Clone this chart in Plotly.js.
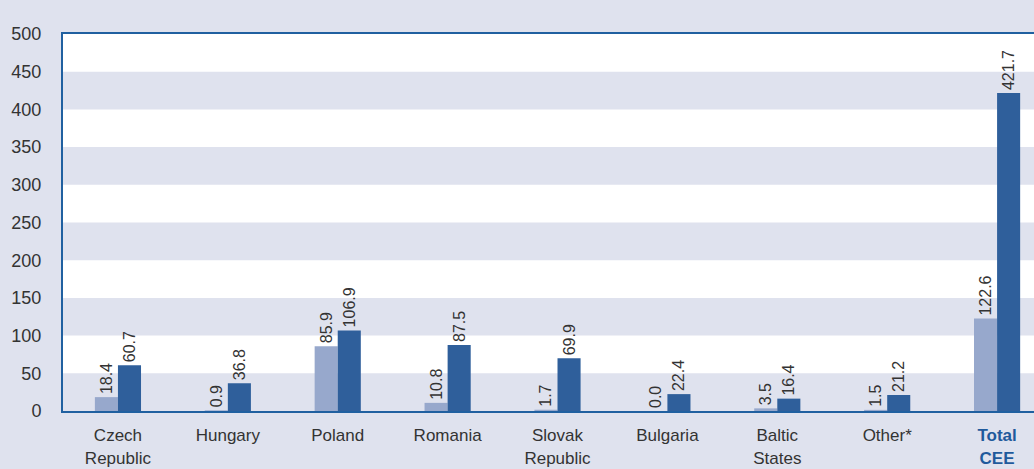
<!DOCTYPE html>
<html><head><meta charset="utf-8">
<script src="https://cdn.plot.ly/plotly-3.0.1.min.js"></script>
<style>html,body{margin:0;padding:0;background:#dfe2ee;}</style>
</head><body>
<div id="chart" style="width:1034px;height:469px;"></div>
<script>
const categories = ["Czech<br>Republic", "Hungary", "Poland", "Romania", "Slovak<br>Republic", "Bulgaria", "Baltic<br>States", "Other*", "<b><span style='color:#1f5a9c'>Total<br>CEE</span></b>"];
const seriesA = [18.4, 0.9, 85.9, 10.8, 1.7, 0.0, 3.5, 1.5, 122.6];
const seriesB = [60.7, 36.8, 106.9, 87.5, 69.9, 22.4, 16.4, 21.2, 421.7];
const yTicks = [0, 50, 100, 150, 200, 250, 300, 350, 400, 450, 500];

const idx = categories.map((c, i) => i);
const font = "'Liberation Sans Narrow', 'Arial Narrow', 'Liberation Sans', Arial, sans-serif";
const mk = (vals, color) => ({
  type: 'bar', x: idx, y: vals,
  marker: {color: color, line: {width: 0}},
  text: vals.map(v => v.toFixed(1)),
  textposition: 'outside', textangle: -90,
  textfont: {family: font, size: 16, color: '#333'},
  constraintext: 'none', cliponaxis: false,
  hoverinfo: 'none'
});
const shapes = [];
for (let i = 0; i + 1 < yTicks.length; i += 2) {
  shapes.push({type: 'rect', xref: 'paper', yref: 'y', x0: 0, x1: 1, y0: yTicks[i], y1: yTicks[i + 1],
    fillcolor: '#dfe2ee', line: {width: 0}, layer: 'below'});
}
Plotly.newPlot('chart', [mk(seriesA, '#97a8cc'), mk(seriesB, '#2f5f9b')], {
  width: 1034, height: 469,
  margin: {l: 63, r: 0, t: 34, b: 58},
  paper_bgcolor: '#dfe2ee', plot_bgcolor: '#ffffff',
  barmode: 'group', bargap: 0.58, bargroupgap: 0,
  showlegend: false,
  shapes: shapes,
  xaxis: {range: [-0.5, 8.336], tickvals: idx, ticktext: categories, showgrid: false, zeroline: false,
    showline: true, mirror: true, linecolor: '#2060a0', linewidth: 2,
    ticks: 'outside', ticklen: 8, tickcolor: 'rgba(0,0,0,0)',
    tickfont: {family: font, size: 17, color: '#333'}, fixedrange: true},
  yaxis: {range: [0, 500], tickvals: yTicks, showgrid: false, zeroline: false,
    showline: true, linecolor: '#2060a0', linewidth: 2,
    ticks: 'outside', ticklen: 16, tickcolor: 'rgba(0,0,0,0)',
    tickfont: {family: font, size: 18, color: '#333'}, fixedrange: true}
}, {displayModeBar: false, staticPlot: true});
</script>
</body></html>
